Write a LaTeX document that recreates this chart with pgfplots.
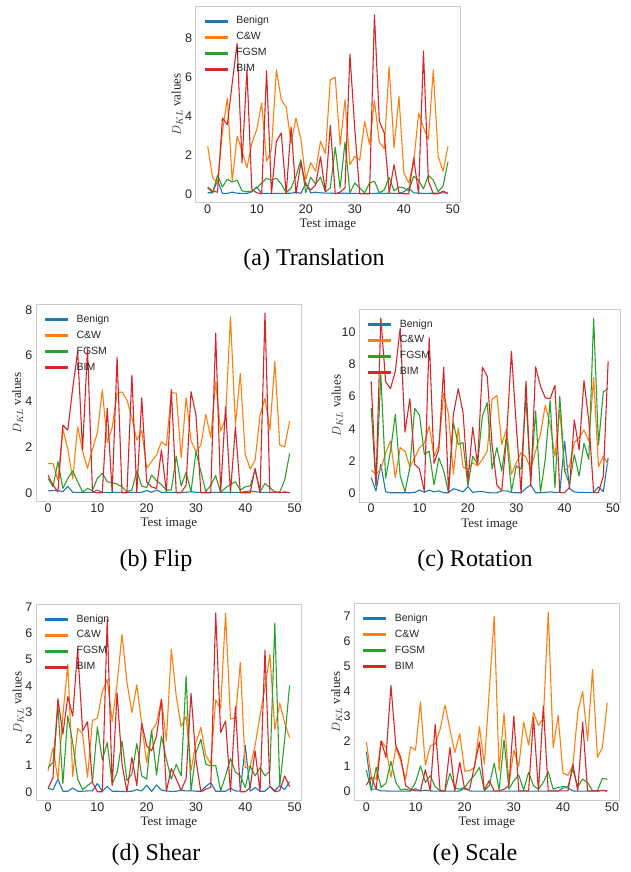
\documentclass[border=0pt]{standalone}
\usepackage{fontspec}
\setmainfont{Liberation Serif}
\newfontfamily\arialf{Liberation Sans}
\usepackage{pgfplots}
\usepackage{pgfplotstable}
\pgfplotsset{compat=1.18}

\definecolor{cbenign}{HTML}{1F77B4}
\definecolor{ccw}{HTML}{FF7F0E}
\definecolor{cfgsm}{HTML}{2CA02C}
\definecolor{cbim}{HTML}{D62728}
\definecolor{framegray}{HTML}{CCCCCC}
\definecolor{txtgray}{HTML}{262626}

% columns: test image, Benign, C&W, FGSM, BIM
\pgfplotstableread{
i benign cw fgsm bim
0 0.05 2.44 0.30 0.34
1 0.05 0.82 0.05 0.14
2 0.70 0.55 0.95 0.08
3 0.02 3.20 0.35 3.90
4 0.02 4.92 0.75 3.55
5 0.08 0.65 0.60 5.70
6 0.03 2.96 0.70 7.74
7 0.02 2.20 0.15 1.59
8 0.02 1.33 0.10 6.37
9 0.10 2.60 0.15 0.22
10 0.35 3.30 0.30 0.05
11 0.02 4.67 0.55 0.00
12 0.02 1.67 0.80 6.32
13 0.02 2.27 0.70 0.00
14 0.02 6.37 0.80 2.70
15 0.02 4.84 0.50 3.13
16 0.02 4.46 0.05 0.00
17 0.03 2.60 0.30 3.44
18 0.08 3.90 0.90 0.00
19 0.02 2.80 1.75 1.60
20 0.55 0.75 0.05 0.45
21 0.05 1.60 0.85 0.20
22 0.08 1.16 0.50 0.45
23 0.05 2.70 0.85 1.90
24 0.03 2.07 0.10 0.10
25 0.03 5.86 0.30 3.52
26 0.02 6.00 2.40 0.00
27 0.02 2.50 0.30 0.08
28 0.03 4.84 2.65 0.30
29 0.02 1.50 0.05 7.18
30 0.02 1.93 0.55 3.30
31 0.02 1.73 0.30 0.00
32 0.02 3.73 0.05 0.00
33 0.02 2.53 0.55 0.00
34 0.02 4.79 0.65 9.20
35 0.03 2.65 0.05 3.73
36 0.02 2.32 0.20 3.13
37 0.03 6.55 0.85 0.05
38 0.02 2.36 0.15 1.50
39 0.02 5.00 0.35 0.05
40 0.10 1.08 0.30 0.00
41 0.30 0.56 0.15 0.00
42 0.05 1.60 0.90 1.85
43 0.03 4.15 0.70 0.00
44 0.02 3.40 0.25 7.35
45 0.02 2.80 0.95 0.65
46 0.03 6.37 0.70 0.00
47 0.03 1.93 0.10 0.00
48 0.05 1.16 0.40 0.13
49 0.03 2.44 1.65 0.02
}\tabA

\pgfplotstableread{
i benign cw fgsm bim
0 0.08 1.28 0.63 0.77
1 0.10 1.28 0.26 0.34
2 0.10 0.55 1.36 0.04
3 0.05 2.78 0.19 2.96
4 0.28 1.90 0.63 2.74
5 0.02 0.60 0.96 4.57
6 0.02 2.88 0.48 6.17
7 0.02 1.82 0.04 1.87
8 0.02 1.07 0.19 6.32
9 0.02 1.90 0.09 0.04
10 0.12 2.63 0.63 0.00
11 0.02 4.50 0.85 0.00
12 0.02 2.20 0.48 3.70
13 0.02 2.85 0.44 0.00
14 0.02 4.35 0.38 5.93
15 0.02 4.41 0.26 0.00
16 0.02 4.06 0.04 0.00
17 0.02 3.28 0.12 5.15
18 0.02 2.30 0.96 0.00
19 0.02 2.72 0.29 4.15
20 0.10 1.07 0.23 0.48
21 0.02 1.36 0.77 0.26
22 0.12 1.65 0.53 0.19
23 0.02 2.23 0.35 1.87
24 0.02 2.06 0.12 0.04
25 0.02 4.38 0.12 4.52
26 0.02 4.35 1.60 0.00
27 0.02 1.53 0.30 0.00
28 0.02 4.16 0.90 0.34
29 0.05 2.28 0.04 4.42
30 0.02 1.80 1.80 3.40
31 0.02 2.09 0.92 0.00
32 0.02 3.43 0.04 0.00
33 0.02 2.41 0.34 0.00
34 0.02 4.86 0.75 6.98
35 0.02 2.70 0.02 0.00
36 0.02 3.26 0.22 3.77
37 0.02 7.70 0.36 0.00
38 0.02 2.96 0.48 2.89
39 0.02 5.22 0.12 0.00
40 0.05 1.68 0.26 0.00
41 0.08 1.04 0.30 0.00
42 0.05 1.43 1.00 1.07
43 0.02 3.40 0.04 0.00
44 0.02 4.13 0.41 7.85
45 0.02 2.74 0.22 0.00
46 0.02 5.74 0.04 0.04
47 0.02 2.09 0.04 0.00
48 0.02 2.01 0.55 0.04
49 0.02 3.14 1.72 0.00
}\tabB

\pgfplotstableread{
i benign cw fgsm bim
0 0.97 1.43 5.30 6.96
1 0.14 1.18 0.45 0.50
2 1.80 1.50 7.38 10.90
3 0.08 2.50 0.93 6.92
4 0.03 3.25 2.62 6.50
5 0.03 0.97 4.90 7.58
6 0.03 2.83 1.07 10.27
7 0.03 2.62 0.10 3.80
8 0.03 1.63 1.60 5.87
9 0.05 2.20 5.27 1.80
10 0.20 2.83 4.86 1.50
11 0.05 3.10 2.42 0.10
12 0.20 4.17 2.62 9.65
13 0.08 2.30 0.52 1.86
14 0.15 3.00 2.20 2.73
15 0.03 6.20 1.38 7.83
16 0.03 4.90 0.04 0.04
17 0.28 1.18 4.38 4.90
18 0.20 4.07 3.04 6.49
19 0.08 1.63 3.14 5.00
20 0.41 1.45 0.45 0.76
21 0.05 1.90 2.30 4.10
22 0.10 1.70 1.80 1.80
23 0.10 2.10 4.80 7.83
24 0.05 2.62 5.62 7.27
25 0.02 5.83 1.50 3.00
26 0.02 6.07 2.83 0.50
27 0.15 3.04 1.38 0.15
28 0.15 4.00 3.55 3.50
29 0.05 1.18 0.10 8.82
30 0.03 1.90 1.70 4.20
31 0.03 2.52 1.50 0.00
32 0.30 2.25 5.90 6.96
33 0.52 1.50 0.87 0.45
34 0.03 2.62 5.10 7.85
35 0.03 3.66 0.05 6.65
36 0.05 5.47 2.10 5.93
37 0.08 4.28 5.76 5.87
38 0.05 2.30 0.35 6.70
39 0.05 5.20 6.03 0.04
40 3.24 1.38 1.38 0.04
41 0.30 1.70 0.56 0.35
42 0.08 3.14 2.40 4.55
43 0.05 3.45 1.07 2.69
44 0.05 3.93 3.10 7.00
45 0.05 3.24 2.10 4.50
46 0.05 7.20 10.85 0.04
47 0.40 1.65 3.00 0.04
48 0.10 2.30 6.30 1.07
49 2.20 1.80 6.50 8.20
}\tabC

\pgfplotstableread{
i benign cw fgsm bim
0 0.13 0.79 0.92 0.13
1 0.08 1.67 1.10 0.54
2 0.48 0.45 3.25 3.52
3 0.02 2.90 0.30 2.18
4 0.02 4.82 2.87 3.60
5 0.14 0.58 1.86 2.87
6 0.02 2.40 0.48 5.41
7 0.02 2.20 0.08 2.30
8 0.03 0.55 0.23 2.65
9 0.03 2.70 0.38 0.35
10 0.31 2.78 2.45 0.00
11 0.02 3.80 1.20 0.00
12 0.20 4.25 1.86 6.52
13 0.02 2.66 0.29 0.23
14 0.02 4.10 0.73 3.75
15 0.01 5.96 1.92 1.04
16 0.01 4.15 0.42 0.00
17 0.02 3.00 0.67 1.30
18 0.08 4.05 1.82 0.23
19 0.03 2.55 0.60 2.60
20 0.25 1.10 0.48 1.74
21 0.01 2.30 2.33 1.55
22 0.26 2.60 0.63 2.11
23 0.06 3.51 2.11 3.50
24 0.03 1.92 1.23 0.02
25 0.01 5.40 0.48 0.88
26 0.02 3.62 1.04 0.48
27 0.05 2.47 0.60 0.05
28 0.03 2.86 4.38 0.50
29 0.04 0.79 0.04 3.72
30 0.02 1.86 1.48 1.20
31 0.02 2.44 1.99 0.00
32 0.20 1.38 1.04 0.10
33 0.35 1.05 0.98 0.16
34 0.02 3.48 1.00 6.77
35 0.02 3.15 0.04 2.24
36 0.02 6.76 0.60 2.68
37 0.13 2.75 1.26 0.00
38 0.03 2.80 0.75 3.22
39 0.02 4.90 0.60 0.00
40 1.75 0.91 0.16 0.00
41 0.02 0.96 0.98 0.16
42 0.16 1.75 0.60 1.55
43 0.02 2.90 0.92 0.00
44 0.02 3.95 0.60 5.36
45 0.20 5.20 0.79 0.20
46 0.04 2.36 6.40 0.00
47 0.23 3.35 0.23 0.04
48 0.08 2.60 1.99 0.60
49 0.38 2.05 4.03 0.19
}\tabD

\pgfplotstableread{
i benign cw fgsm bim
0 1.60 1.99 0.86 0.27
1 0.10 0.60 0.04 0.57
2 0.10 0.50 0.97 0.10
3 0.03 2.03 0.17 2.03
4 0.03 1.76 0.34 1.37
5 0.02 0.57 1.21 4.24
6 0.02 1.76 0.37 1.83
7 0.02 1.23 0.07 1.37
8 0.02 0.50 0.10 0.24
9 0.03 1.79 0.04 0.10
10 0.12 1.66 0.37 0.03
11 0.03 3.58 1.03 0.03
12 0.06 1.06 0.37 0.88
13 0.03 1.83 0.64 0.04
14 0.02 1.90 0.20 2.69
15 0.02 2.49 0.04 0.03
16 0.02 3.46 0.03 0.03
17 0.02 2.49 0.74 1.76
18 0.02 1.56 0.15 0.03
19 0.03 2.32 0.10 1.17
20 0.15 0.82 0.17 0.10
21 0.03 0.84 0.44 0.10
22 0.02 0.97 0.66 1.03
23 0.02 2.60 0.97 1.99
24 0.02 1.10 0.04 0.07
25 0.02 4.02 0.24 0.44
26 0.02 7.00 1.14 0.03
27 0.02 0.84 0.07 0.03
28 0.02 3.12 2.07 0.10
29 0.02 0.30 0.10 0.24
30 0.02 1.66 0.44 3.02
31 0.02 1.00 0.66 0.03
32 0.02 2.78 0.07 0.03
33 0.02 1.86 0.77 0.03
34 0.02 3.16 0.24 2.96
35 0.02 2.65 0.10 0.03
36 0.02 2.92 0.37 3.42
37 0.02 7.16 0.80 0.03
38 0.02 1.76 0.10 0.03
39 0.02 3.05 0.17 0.03
40 0.15 0.74 0.20 0.03
41 0.15 0.66 0.20 0.03
42 0.03 1.03 0.90 1.10
43 0.02 3.18 0.20 0.03
44 0.02 3.99 0.50 2.78
45 0.02 2.03 0.37 0.03
46 0.02 4.88 0.04 0.03
47 0.02 1.37 0.04 0.03
48 0.05 1.76 0.53 0.05
49 0.03 3.55 0.50 0.02
}\tabE

\pgfplotsset{
  dklstyle/.style={
    scale only axis,
    anchor=north west,
    axis line style={framegray, line width=0.9pt},
    tick style={draw=none},
    major tick length=0pt,
    xmin=-2.45, xmax=51.45,
    xtick={0,10,...,50},
    /pgf/number format/assume math mode=true,
    ticklabel style={font=\arialf\fontsize{12.5}{14}\selectfont, text=txtgray},
    xticklabel style={inner sep=2pt},
    yticklabel style={inner sep=3.5pt},
    xlabel={Test image},
    ylabel={$D_{KL}$ values},
    label style={font=\fontsize{13}{15}\selectfont, text=txtgray},
    xlabel style={at={([yshift=-25pt]axis description cs:0.5,0)}, anchor=base},
    ylabel style={at={([xshift=-15pt]axis description cs:0,0.5)}, anchor=base},
    legend cell align=left,
    % filled bar instead of a stroke, so every legend line rasterises alike
    legend image code/.code={\fill[#1] (0pt,-0.8pt) rectangle (22pt,0.8pt);},
    legend style={at={([xshift=9pt,yshift=-9.5pt]axis description cs:0,1)},
      anchor=north west, draw=none, fill=none, inner sep=0pt, outer sep=0pt,
      font=\arialf\fontsize{10.5}{12}\selectfont,
      nodes={inner sep=1pt, text height=7.5pt, text depth=2.5pt},
      row sep=3.9pt,
      /tikz/every odd column/.append style={column sep=7.5pt}},
    every axis plot/.append style={line width=1.1pt, no markers, line join=round},
  },
}

\newcommand{\fourlines}[1]{%
  \addplot[color=cbenign] table[x=i,y=benign]{#1};
  \addplot[color=ccw] table[x=i,y=cw]{#1};
  \addplot[color=cfgsm] table[x=i,y=fgsm]{#1};
  \addplot[color=cbim] table[x=i,y=bim]{#1};
  \legend{\textcolor{txtgray}{Benign},\textcolor{txtgray}{C\&W},\textcolor{txtgray}{FGSM},\textcolor{txtgray}{BIM}}
}

\begin{document}
\begin{tikzpicture}
\useasboundingbox (0,0) rectangle (631pt,-872pt);

% (a) Translation
\begin{axis}[dklstyle, at={(195.7pt,-6pt)}, width=264.3pt, height=196.7pt,
    ymin=-0.46, ymax=9.66, ytick={0,2,4,6,8}]
  \fourlines{\tabA}
\end{axis}

% (b) Flip
\begin{axis}[dklstyle, at={(36pt,-304.3pt)}, width=265.7pt, height=197.4pt,
    ymin=-0.39, ymax=8.24, ytick={0,2,4,6,8}]
  \fourlines{\tabB}
\end{axis}

% (c) Rotation
\begin{axis}[dklstyle, at={(359.3pt,-309pt)}, width=260.7pt, height=193pt,
    ymin=-0.545, ymax=11.445, ytick={0,2,4,6,8,10},
    ylabel style={at={([xshift=-18.6pt]axis description cs:0,0.5)}}]
  \fourlines{\tabC}
\end{axis}

% (d) Shear
\begin{axis}[dklstyle, at={(36pt,-604pt)}, width=265.7pt, height=196.7pt,
    ymin=-0.34, ymax=7.11, ytick={0,1,...,7},
    ylabel style={at={([xshift=-14.3pt]axis description cs:0,0.5)}}]
  \fourlines{\tabD}
\end{axis}

% (e) Scale
\begin{axis}[dklstyle, at={(354.3pt,-603.3pt)}, width=265pt, height=197.4pt,
    ymin=-0.36, ymax=7.52, ytick={0,1,...,7},
    ylabel style={at={([xshift=-14.3pt]axis description cs:0,0.5)}}]
  \fourlines{\tabE}
\end{axis}

\begin{scope}[every node/.style={font=\fontsize{24}{28}\selectfont, anchor=base}]
  \node at (314pt,-265pt) {(a)~Translation};
  \node at (156pt,-566pt) {(b)~Flip};
  \node at (475pt,-566pt) {(c)~Rotation};
  \node at (156pt,-860pt) {(d)~Shear};
  \node at (475pt,-860pt) {(e)~Scale};
\end{scope}
\end{tikzpicture}
\end{document}
